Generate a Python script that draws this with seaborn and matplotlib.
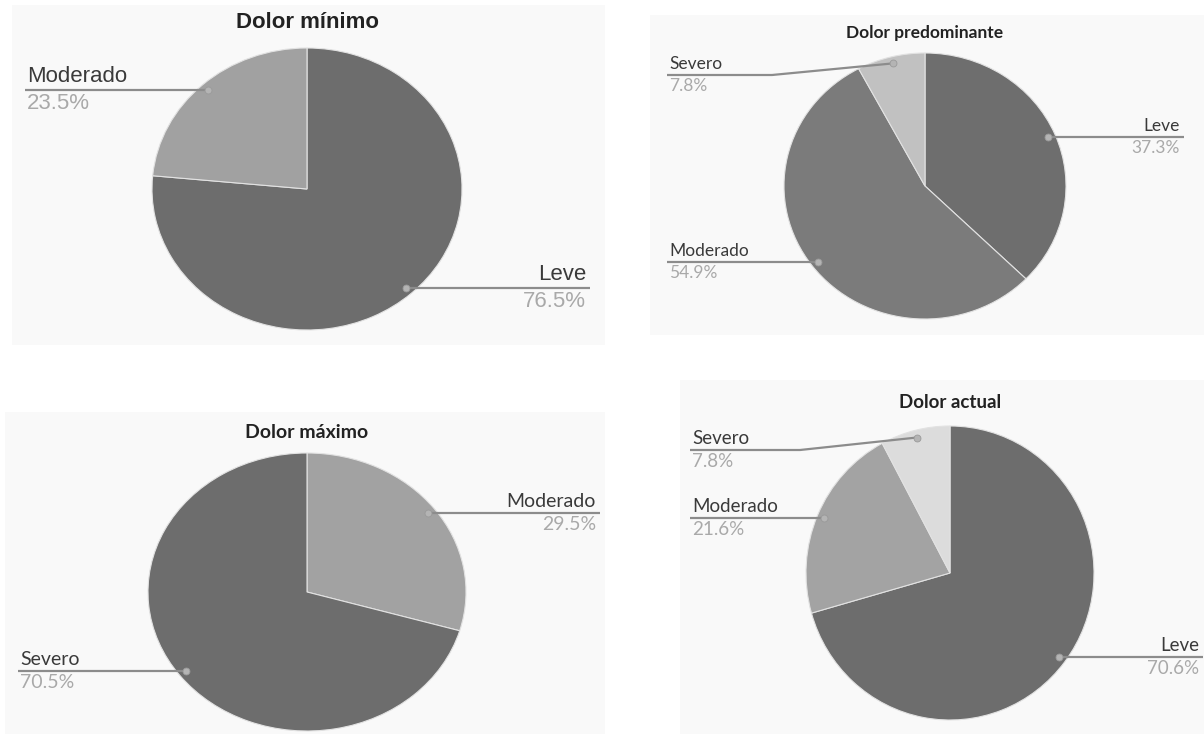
import numpy as np
import matplotlib
matplotlib.use("Agg")
import matplotlib.pyplot as plt
import seaborn as sns

sns.set_theme(style="white")
plt.rcParams["font.family"] = ["Lato", "DejaVu Sans"]

W, H = 1204, 734

# Datos de los cuatro gráficos
cats_minimo = ["Leve", "Moderado"]
vals_minimo = [76.5, 23.5]
cats_predominante = ["Leve", "Moderado", "Severo"]
vals_predominante = [37.3, 54.9, 7.8]
cats_maximo = ["Moderado", "Severo"]
vals_maximo = [29.5, 70.5]
cats_actual = ["Leve", "Moderado", "Severo"]
vals_actual = [70.6, 21.6, 7.8]

fig = plt.figure(figsize=(W / 100, H / 100), dpi=100)

# fondo gris muy claro de cada panel
bg = fig.add_axes([0, 0, 1, 1], zorder=-2)
bg.set_xlim(0, W)
bg.set_ylim(H, 0)
bg.axis("off")
for (x0, y0, x1, y1) in [(12, 5, 605, 345), (650, 15, 1204, 335), (5, 412, 605, 734), (680, 380, 1204, 734)]:
    bg.add_patch(plt.Rectangle((x0, y0), x1 - x0, y1 - y0, color="#f9f9f9", lw=0))

# capa superior para textos y líneas guía
ov = fig.add_axes([0, 0, 1, 1], zorder=5)
ov.set_xlim(0, W)
ov.set_ylim(H, 0)
ov.axis("off")
ov.patch.set_alpha(0)


def pastel(cx, cy, rx, ry, cats, vals, colores, titulo, tit_y, guias, fuente, tam, tam_tit):
    ax = fig.add_axes([(cx - rx) / W, 1 - (cy + ry) / H, 2 * rx / W, 2 * ry / H])
    wedges, _ = ax.pie(vals, colors=colores, startangle=90, counterclock=False,
                       wedgeprops=dict(edgecolor="#e2e2e2", linewidth=0.8))
    ax.set_aspect("auto")
    ax.set_xlim(-1, 1)
    ax.set_ylim(-1, 1)
    for w in wedges:
        w.set_clip_on(False)

    ov.text(cx, tit_y, titulo, ha="center", va="center", fontsize=tam_tit,
            fontweight="bold", color="#222222", family=fuente)

    for w, cat, v in zip(wedges, cats, vals):
        lado, xt, codo = guias[cat]
        ang = np.deg2rad((w.theta1 + w.theta2) / 2)
        dx = cx + 0.95 * rx * np.cos(ang)
        dy = cy - 0.95 * ry * np.sin(ang)
        if codo is None:
            yl = dy
            xs, ys = [xt, dx], [yl, yl]
        else:
            xe, yl = codo
            xs, ys = [xt, xe, dx], [yl, yl, dy]
        if lado == "left":
            xs[0] = xt - 2
            ha = "left"
        else:
            xs[0] = xt + 4
            ha = "right"
        ov.plot(xs, ys, color="#8c8c8c", lw=1.6, solid_capstyle="butt")
        ov.plot([dx], [dy], "o", ms=5, color="#b4b4b4", mec="#9a9a9a", mew=0.6)
        ov.text(xt, yl - 3, cat, ha=ha, va="bottom", fontsize=tam, color="#3a3a3a", family=fuente)
        ov.text(xt, yl + 3, f"{v:.1f}%", ha=ha, va="top", fontsize=tam, color="#a9a9a9", family=fuente)


pastel(307, 189, 155, 141, cats_minimo, vals_minimo, ["#6d6d6d", "#a1a1a1"],
       "Dolor mínimo", 22,
       {"Leve": ("right", 586, None), "Moderado": ("left", 27, None)},
       ["Liberation Sans", "DejaVu Sans"], 16, 16)

pastel(925, 186, 141, 133, cats_predominante, vals_predominante, ["#6e6e6e", "#7b7b7b", "#c1c1c1"],
       "Dolor predominante", 33,
       {"Leve": ("right", 1180, None), "Moderado": ("left", 669, None),
        "Severo": ("left", 669, (772, 75))},
       ["Lato", "DejaVu Sans"], 12.5, 12.5)

pastel(307, 592, 159, 139, cats_maximo, vals_maximo, ["#a2a2a2", "#6d6d6d"],
       "Dolor máximo", 432,
       {"Moderado": ("right", 596, None), "Severo": ("left", 20, None)},
       ["Lato", "DejaVu Sans"], 14, 14)

pastel(950, 573, 144, 147, cats_actual, vals_actual, ["#6d6d6d", "#a3a3a3", "#dcdcdc"],
       "Dolor actual", 403,
       {"Leve": ("right", 1199, None), "Moderado": ("left", 692, None),
        "Severo": ("left", 692, (800, 450))},
       ["Lato", "DejaVu Sans"], 13.5, 13.5)

fig.savefig("out.png", dpi=100)
